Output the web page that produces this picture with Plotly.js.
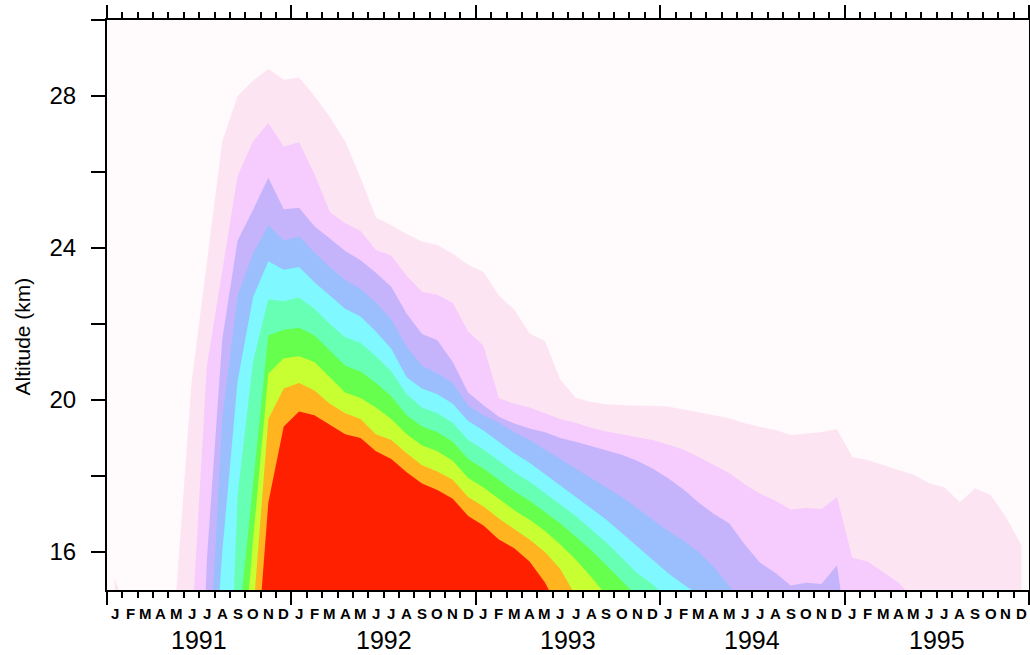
<!DOCTYPE html>
<html>
<head>
<meta charset="utf-8">
<script src="https://cdn.plot.ly/plotly-3.0.1.min.js"></script>
<style>html,body{margin:0;padding:0;background:#fff;}#chart{width:1030px;height:655px;}</style>
</head>
<body>
<div id="chart"></div>
<script>
// month index 0 = Jan 1991 ... 59 = Dec 1995
const months = Array.from({length: 60}, (_, i) => i);
const monthLetters = ["J","F","M","A","M","J","J","A","S","O","N","D"];
const years = ["1991","1992","1993","1994","1995"];
const yTickVals = [16,18,20,22,24,26,28,30];
const yTickText = ["16","","20","","24","","28",""];

// upper altitude (km) of each filled contour level, per month
const level1 = [15.3,14.2,13,13,14.9,20.45,23.6,26.8,28.0,28.4,28.71,28.43,28.49,28.0,27.45,26.8,25.85,24.8,24.6,24.37,24.17,24.08,23.85,23.56,23.37,22.75,22.38,21.75,21.55,20.53,20.06,19.95,19.89,19.87,19.85,19.85,19.83,19.75,19.68,19.6,19.52,19.39,19.29,19.21,19.08,19.11,19.15,19.24,18.5,18.42,18.28,18.16,18.03,17.81,17.7,17.31,17.68,17.5,16.92,16.18];
const level2 = [12,12,12,12,12,13.9,20.9,23.4,25.9,26.8,27.29,26.67,26.78,25.95,24.95,24.65,24.45,23.95,23.8,23.27,22.85,22.77,22.55,21.8,21.43,20.05,19.9,19.8,19.65,19.5,19.4,19.27,19.17,19.1,19.03,18.95,18.83,18.7,18.5,18.28,18.08,17.78,17.53,17.35,17.12,17.16,17.13,17.45,15.85,15.75,15.47,15.2,14.77,12,12,12,12,12,12,12];
const level3 = [5,5,5,5,5,5,15.8,21.6,24.2,25.0,25.85,25.02,25.06,24.57,24.25,23.92,23.68,23.35,22.98,22.27,21.74,21.57,21.0,20.2,19.86,19.56,19.38,19.25,19.15,19.0,18.9,18.78,18.68,18.56,18.4,18.2,17.95,17.65,17.3,17.0,16.75,16.2,15.72,15.45,15.12,15.19,15.16,15.65,12.9,12,12,12,12,12,12,12,12,12,12,12];
const level4 = [5,5,5,5,5,5,12.0,19.5,22.75,23.85,24.6,24.2,24.3,23.88,23.5,23.15,22.93,22.56,22.12,21.4,20.9,20.7,20.45,19.85,19.6,19.4,19.15,18.95,18.7,18.45,18.2,17.95,17.7,17.45,17.15,16.85,16.55,16.3,16.0,15.6,15.1,14.47,12,12,12,12,12,12,12,12,12,12,12,12,12,12,12,12,12,12];
const level5 = [5,5,5,5,5,5,10.1,16.0,20.5,22.7,23.65,23.43,23.5,23.1,22.75,22.4,22.2,21.8,21.35,20.6,20.3,20.15,19.9,19.45,19.2,18.9,18.6,18.35,18.05,17.75,17.45,17.15,16.85,16.5,16.15,15.8,15.45,15.15,14.88,12,12,12,12,12,12,12,12,12,12,12,12,12,12,12,12,12,12,12,12,12];
const level6 = [5,5,5,5,5,5,5,7.1,17.5,21.0,22.65,22.6,22.7,22.4,22.0,21.65,21.5,21.15,20.75,20.15,19.8,19.65,19.4,18.95,18.7,18.4,18.1,17.85,17.55,17.25,16.95,16.6,16.25,15.85,15.45,15.15,14.79,12,12,12,12,12,12,12,12,12,12,12,12,12,12,12,12,12,12,12,12,12,12,12];
const level7 = [5,5,5,5,5,5,5,5,13.8,17.8,21.7,21.85,21.9,21.7,21.3,20.9,20.75,20.45,20.1,19.6,19.3,19.15,18.9,18.45,18.2,17.9,17.6,17.35,17.05,16.75,16.4,16.05,15.65,15.25,14.83,12,12,12,12,12,12,12,12,12,12,12,12,12,12,12,12,12,12,12,12,12,12,12,12,12];
const level8 = [5,5,5,5,5,5,5,5,11.4,16.3,20.7,21.1,21.15,21.0,20.6,20.2,20.05,19.8,19.5,19.1,18.8,18.65,18.4,17.95,17.7,17.4,17.1,16.85,16.55,16.2,15.8,15.35,14.85,12,12,12,12,12,12,12,12,12,12,12,12,12,12,12,12,12,12,12,12,12,12,12,12,12,12,12];
const level9 = [5,5,5,5,5,5,5,5,5,14.33,19.5,20.3,20.45,20.25,19.9,19.65,19.5,19.1,18.95,18.6,18.28,18.12,17.9,17.45,17.2,16.88,16.6,16.33,16.0,15.55,14.85,12,12,12,12,12,12,12,12,12,12,12,12,12,12,12,12,12,12,12,12,12,12,12,12,12,12,12,12,12];
const level10 = [5,5,5,5,5,5,5,5,5,12.0,17.3,19.3,19.7,19.6,19.35,19.1,19.0,18.65,18.45,18.1,17.8,17.63,17.4,16.95,16.7,16.33,16.1,15.75,15.2,14.41,12,12,12,12,12,12,12,12,12,12,12,12,12,12,12,12,12,12,12,12,12,12,12,12,12,12,12,12,12,12];

const levels = [level1,level2,level3,level4,level5,level6,level7,level8,level9,level10];
const colors = ["#FDE4F2","#F5CCFD","#C5B4FC","#9BBEFD","#80F8FF","#66FFB3","#66FF4D","#C8FF33","#FFB420","#FF2000"];

const traces = levels.map((lv, k) => ({
  x: months, y: lv, type: "scatter", mode: "lines",
  fill: "tozeroy", fillcolor: colors[k],
  line: {width: 0, color: colors[k]}, hoverinfo: "skip", showlegend: false
}));

const annotations = [];
months.forEach(i => annotations.push({
  x: i, xref: "x", y: -0.042, yref: "paper", text: monthLetters[i % 12],
  showarrow: false, xanchor: "center", yanchor: "middle",
  font: {family: "Liberation Sans, Arial, sans-serif", size: 15, color: "#000", weight: 700}
}));
years.forEach((yr, k) => annotations.push({
  x: k * 12 + 5.5, xref: "x", y: -0.088, yref: "paper", text: yr,
  showarrow: false, xanchor: "center", yanchor: "middle",
  font: {family: "Liberation Sans, Arial, sans-serif", size: 25, color: "#000"}
}));
annotations.push({
  x: -0.092, xref: "paper", y: 0.445, yref: "paper", text: "Altitude (km)",
  textangle: -90, showarrow: false, xanchor: "center", yanchor: "middle",
  font: {family: "Liberation Sans, Arial, sans-serif", size: 21, color: "#000"}
});

const layout = {
  width: 1030, height: 655,
  margin: {l: 107, r: 1, t: 20, b: 65},
  paper_bgcolor: "#ffffff", plot_bgcolor: "#FFFAFC",
  showlegend: false,
  xaxis: {
    range: [-0.5, 59.5], tickvals: [-0.5, 11.5, 23.5, 35.5, 47.5, 59.5],
    ticks: "outside", ticklen: 13, tickwidth: 2, tickcolor: "#000",
    showticklabels: false, showline: true, linewidth: 2, linecolor: "#000",
    mirror: "ticks", showgrid: false, zeroline: false,
    minor: {tick0: -0.5, dtick: 1, ticks: "outside", ticklen: 6, tickwidth: 2, tickcolor: "#000", showgrid: false}
  },
  yaxis: {
    range: [15, 30], tickvals: yTickVals, ticktext: yTickText,
    ticks: "outside", ticklen: 14, tickwidth: 2, tickcolor: "#000",
    showline: true, linewidth: 2, linecolor: "#000", mirror: "ticks",
    showgrid: false, zeroline: false, ticklabelstandoff: 10,
    tickfont: {family: "Liberation Sans, Arial, sans-serif", size: 24, color: "#000"}
  },
  annotations: annotations
};

Plotly.newPlot("chart", traces, layout, {staticPlot: true, displayModeBar: false});
</script>
</body>
</html>
